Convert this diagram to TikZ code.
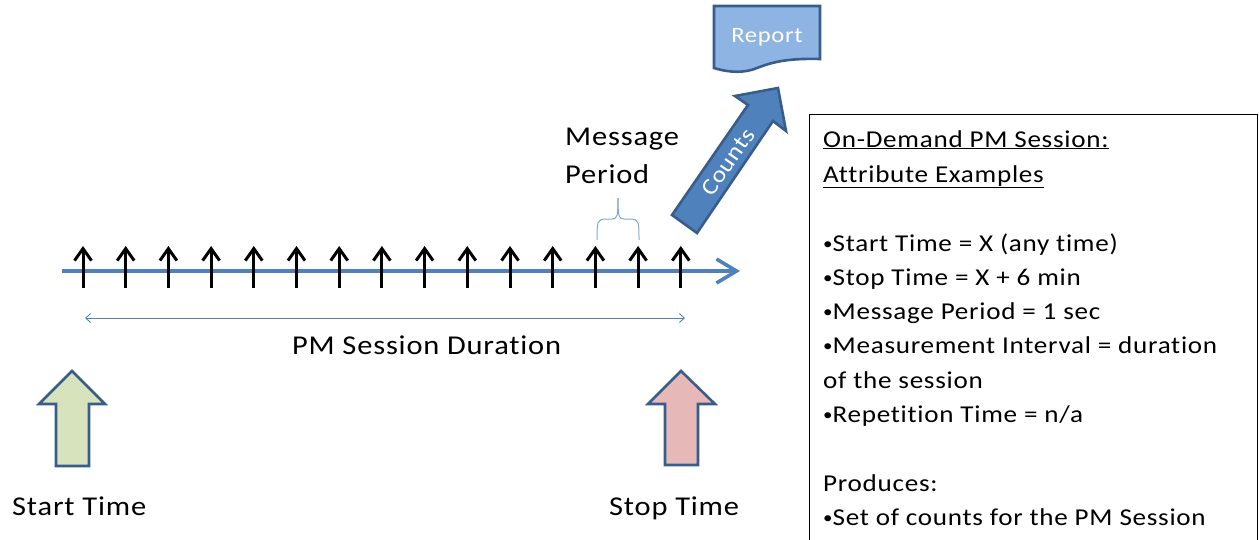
\documentclass[tikz,border=0pt]{standalone}
\usepackage{fontspec}
\setmainfont[FakeStretch=1.12,LetterSpace=3,Ligatures=NoCommon]{Carlito}
\usetikzlibrary{arrows.meta}
\definecolor{lineblue}{RGB}{79,129,189}
\definecolor{edgeblue}{RGB}{56,93,138}
\definecolor{startgreen}{RGB}{215,227,188}
\definecolor{stoppink}{RGB}{230,184,183}
\definecolor{reportblue}{RGB}{141,180,226}
\newcommand{\bul}{\raisebox{1.5pt}{\fontsize{17}{17}\selectfont •}}
\tikzset{every node/.style={font=\fontsize{27.2}{34}\selectfont},
  tick/.style={draw=black,line width=3pt,-{Straight Barb[length=12pt,width=17pt,line width=3pt]}},
  label/.style={inner sep=0pt,anchor=base west},
  boxline/.style={inner sep=0pt,anchor=base west,font=\fontsize{24.2}{34}\selectfont},
  bigarrow/.style={draw=edgeblue,line width=2.6pt,line join=miter}}
\begin{document}
\begin{tikzpicture}[x=1pt,y=-1pt]
\useasboundingbox (0,0) rectangle (1259,539);
% time line
\coordinate (linestart) at (62,271);
\coordinate (lineend) at (740,271);
\draw[lineblue,line width=4.5pt,-{Straight Barb[length=20pt,width=24pt,line width=3.6pt]}] (linestart) -- (lineend);
\foreach \i in {0,...,14}
  \draw[tick] (83+42.7*\i,288) -- (83+42.7*\i,246);
% duration
\coordinate (durstart) at (85,318);
\coordinate (durend) at (685,318);
\draw[lineblue,line width=0.9pt,{Straight Barb[length=5pt,width=9pt]}-{Straight Barb[length=5pt,width=9pt]}] (durstart) -- (durend);
\node[label] (duration) at (292,354) {PM Session Duration};
% brace
\coordinate (bracea) at (597,240);
\coordinate (braceb) at (639,240);
\coordinate (bracetip) at (618,198);
\draw[lineblue!70,line width=1pt] (bracea) .. controls (597,222) and (597,219) .. (606,219) -- (612,219) .. controls (617,219) and (618,217) .. (bracetip);
\draw[lineblue!70,line width=1pt] (braceb) .. controls (639,222) and (639,219) .. (630,219) -- (624,219) .. controls (619,219) and (618,217) .. (bracetip);
\node[label] (message) at (565,145) {Message};
\node[label] (period) at (565,183) {Period};
% counts arrow
\draw[bigarrow,fill=lineblue] (672,215) -- (697,233) -- (773,121) -- (786,131) -- (778,88) -- (735,96) -- (748,105) -- cycle;
\node[inner sep=0pt,text=white,rotate=55,font=\fontsize{23}{26}\selectfont] (counts) at (728,162) {Counts};
% report
\draw[bigarrow,fill=reportblue] (714,6) -- (820,6) -- (820,59) .. controls (785,58) and (770,63) .. (757,68) .. controls (745,73) and (730,73) .. (714,68) -- cycle;
\node[inner sep=0pt,text=white,font=\fontsize{22}{28}\selectfont] (report) at (767,37) {Report};
% start and stop
\draw[bigarrow,fill=startgreen] (72,371) -- (105,404) -- (89,404) -- (89,466) -- (56,466) -- (56,404) -- (39,404) -- cycle;
\node[label] (start) at (12,515) {Start Time};
\draw[bigarrow,fill=stoppink] (681,371) -- (715,404) -- (698,404) -- (698,465) -- (665,465) -- (665,404) -- (648,404) -- cycle;
\node[label] (stop) at (609,515) {Stop Time};
% attribute box
\draw[black,line width=1.2pt] (809.5,539.5) -- (809.5,114.5) -- (1257.5,114.5) -- (1257.5,539.5);
\node[boxline] (title) at (823,147) {\underline{On-Demand PM Session:}};
\node[boxline] at (823,182) {\underline{Attribute Examples}};
\node[boxline] at (823,251) {\bul Start Time = X (any time)};
\node[boxline] at (823,285) {\bul Stop Time = X + 6 min};
\node[boxline] at (823,319) {\bul Message Period = 1 sec};
\node[boxline] at (823,353) {\bul Measurement Interval = duration};
\node[boxline] at (823,388) {of the session};
\node[boxline] at (823,422) {\bul Repetition Time = n/a};
\node[boxline] at (823,491) {Produces:};
\node[boxline] at (823,525) {\bul Set of counts for the PM Session};
\end{tikzpicture}
\end{document}
